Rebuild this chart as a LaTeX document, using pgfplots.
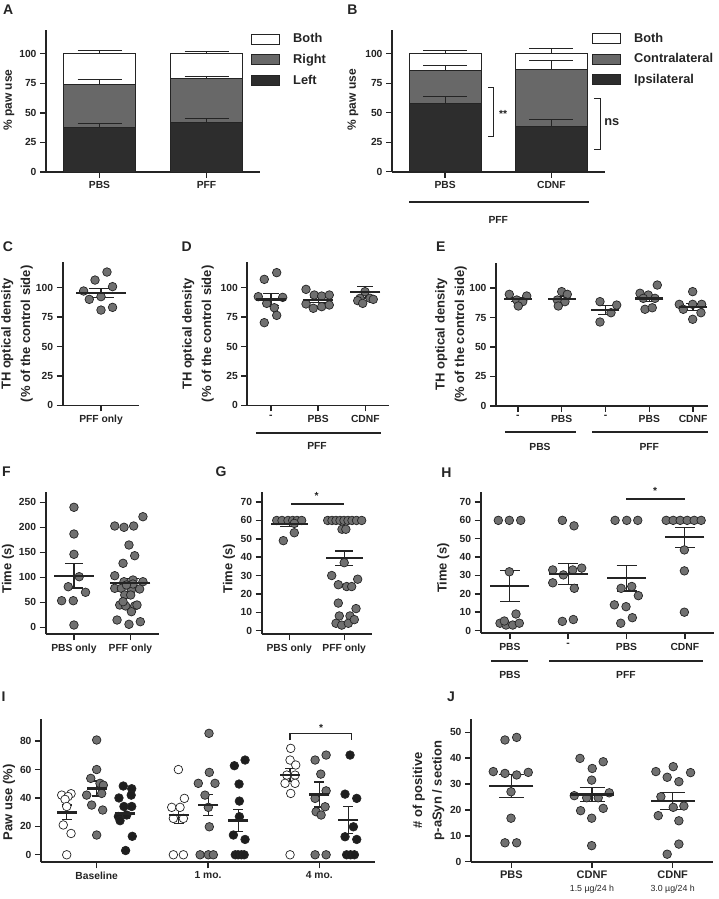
\documentclass[border=0pt]{standalone}
\usepackage{pgfplots}
\pgfplotsset{compat=1.18}
\usepackage{fontspec}
\setmainfont{Liberation Sans}

\definecolor{ink}{HTML}{242424}
\definecolor{dotgray}{HTML}{707070}
\definecolor{dotblack}{HTML}{1E1E1E}
\definecolor{bardark}{HTML}{2D2D2D}
\definecolor{bargray}{HTML}{686868}

\newcommand\tk{\fontsize{10.3}{12}\selectfont\bfseries}
\newcommand\lbs{\fontsize{12}{14}\selectfont\bfseries}
\newcommand\lbb{\fontsize{13}{19.5}\selectfont\bfseries}
\newcommand\lgd{\fontsize{12.8}{15}\selectfont\bfseries}
\newcommand\pl{\fontsize{14}{16}\selectfont\bfseries}
\newcommand\sub{\fontsize{8.8}{10}\selectfont\mdseries}

\pgfplotsset{
  gp/.style={scale only axis, anchor=south west, clip=false,
    axis lines=left, axis line style={-, line width=1.8pt, draw=ink},
    tick align=outside, major tick length=6pt,
    tick style={line width=1.4pt, draw=ink},
    tick label style={font=\tk, text=ink},
    /pgf/number format/assume math mode=true,
    ylabel style={font=\lbb, text=ink, align=center, anchor=center}},
  dots/.style={only marks, mark=*, mark size=4.3pt,
    mark options={fill=#1, draw=ink, line width=0.7pt}},
  dots/.default=dotgray,
  msem/.style 2 args={only marks, mark=-, mark size=#1,
    mark options={line width=2.4pt, draw=ink},
    error bars/.cd, y dir=both, y explicit,
    error bar style={line width=1.2pt, draw=ink},
    error mark options={rotate=90, mark size=#2, line width=1.2pt, draw=ink}},
  lgbox/.style={legend image code/.code={\draw[##1, line width=1pt] (0pt,-5pt) rectangle (28pt,5pt);}},
  errs/.style={forget plot, draw=none, fill=none, error bars/.cd, y dir=plus, y explicit,
    error bar style={line width=1pt, draw=ink},
    error mark options={rotate=90, mark size=22pt, line width=1pt, draw=ink}},
  lgpos/.style={legend style={at={#1}, anchor=north west, draw=none, fill=none,
    font=\lgd, text=ink, legend cell align=left, row sep=6pt, inner sep=0pt,
    /tikz/every odd column/.append style={column sep=11pt}}},
}

\begin{document}
\begin{tikzpicture}
\useasboundingbox (0pt,0pt) rectangle (718pt,-899pt);

% ---------- A
\begin{axis}[gp, at={(46pt,-172pt)}, width=214pt, height=142pt,
  xmin=0.5, xmax=2.5, ymin=0, ymax=120,
  xtick={1,2}, xticklabels={PBS,PFF}, ytick={0,25,50,75,100},
  ybar, bar width=72pt, bar shift=0pt,
  ylabel={\% paw use}, ylabel style={font=\lbs, at={(axis description cs:-0.173,0.507)}},
  lgpos={(0.958,0.99)}]
\addplot[lgbox, fill=white, draw=ink, line width=1pt] coordinates {(1,100) (2,100)};
\addlegendentry{Both}
\addplot[lgbox, fill=bargray, draw=ink, line width=1pt] coordinates {(1,74.1) (2,78.6)};
\addlegendentry{Right}
\addplot[lgbox, fill=bardark, draw=ink, line width=1pt] coordinates {(1,37.8) (2,42)};
\addlegendentry{Left}
\addplot[errs] coordinates {(1,37.8) +- (0,3.3) (1,74.1) +- (0,4.2) (1,100) +- (0,3)
  (2,42) +- (0,2.8) (2,78.6) +- (0,2.5) (2,100) +- (0,1.7)};
\end{axis}

% ---------- B
\begin{axis}[gp, at={(392pt,-171.7pt)}, width=212.5pt, height=141.6pt,
  xmin=0.5, xmax=2.5, ymin=0, ymax=120,
  xtick={1,2}, xticklabels={PBS,CDNF}, ytick={0,25,50,75,100},
  ybar, bar width=72pt, bar shift=0pt,
  ylabel={\% paw use}, ylabel style={font=\lbs, at={(axis description cs:-0.184,0.507)}},
  lgpos={(0.941,0.996)}]
\addplot[lgbox, fill=white, draw=ink, line width=1pt] coordinates {(1,100) (2,100)};
\addlegendentry{Both}
\addplot[lgbox, fill=bargray, draw=ink, line width=1pt] coordinates {(1,85.9) (2,86.8)};
\addlegendentry{Contralateral}
\addplot[lgbox, fill=bardark, draw=ink, line width=1pt] coordinates {(1,58) (2,38.1)};
\addlegendentry{Ipsilateral}
\addplot[errs] coordinates {(1,58) +- (0,5.5) (1,85.9) +- (0,4.1) (1,100) +- (0,3)
  (2,38.1) +- (0,6.2) (2,86.8) +- (0,7.2) (2,100) +- (0,4.5)};
\draw[line width=1pt, draw=ink] (axis cs:1.404,71.5) -- (axis cs:1.453,71.5) -- (axis cs:1.453,29.7) -- (axis cs:1.404,29.7);
\node[font=\tk, text=ink] at (axis cs:1.545,49) {**};
\draw[line width=1pt, draw=ink] (axis cs:2.401,62.2) -- (axis cs:2.458,62.2) -- (axis cs:2.458,18.4) -- (axis cs:2.401,18.4);
\node[font=\lgd, text=ink] at (axis cs:2.568,42.4) {ns};
\draw[line width=1.8pt, draw=ink] ([yshift=-30pt]axis cs:0.66,0) -- ([yshift=-30pt]axis cs:2.354,0);
\node[font=\tk, text=ink] at ([yshift=-48pt]axis cs:1.5,0) {PFF};
\end{axis}

% ---------- C
\begin{axis}[gp, at={(62.7pt,-405.4pt)}, width=76.6pt, height=143pt,
  xmin=0.5, xmax=1.5, ymin=0, ymax=121.5,
  xtick={1}, xticklabels={PFF only}, ytick={0,25,50,75,100},
  ylabel={TH optical density\\(\% of the control side)},
  ylabel style={at={(axis description cs:-0.597,0.5)}}]
\addplot[dots] coordinates {(1.078,113.3) (0.922,106.5) (1.151,100.9) (0.773,97.2)
  (1.0,92.4) (0.847,90.1) (1.151,83.3) (1.0,81)};
\addplot[msem={25pt}{12.5pt}] coordinates {(1,95.7) +- (0,3.9)};
\end{axis}

% ---------- D
\begin{axis}[gp, at={(247.3pt,-405.4pt)}, width=141.6pt, height=143pt,
  xmin=0.5, xmax=3.5, ymin=0, ymax=121.5,
  xtick={1,2,3}, xticklabels={-,PBS,CDNF}, ytick={0,25,50,75,100},
  ylabel={TH optical density\\(\% of the control side)},
  ylabel style={at={(axis description cs:-0.348,0.5)}}]
\addplot[dots] coordinates {(1.123,112.8) (0.860,107.1) (0.733,92.4) (1.25,91.8)
  (0.911,86.7) (1.072,83) (1.123,76.5) (0.860,70.3)};
\addplot[dots] coordinates {(1.744,98.6) (1.919,93.8) (2.076,92.9) (2.237,93.8)
  (1.744,86.2) (1.898,82.5) (2.076,83.9) (2.237,85.3)};
\addplot[dots] coordinates {(2.994,96.6) (2.888,91) (3.100,91) (2.839,89)
  (3.169,90.1) (2.945,86.7)};
\addplot[msem={15pt}{8pt}] coordinates {(1,90.1) +- (0,5) (2,89.5) +- (0,2) (3,96.3) +- (0,5)};
\draw[line width=1.8pt, draw=ink] ([yshift=-27.3pt]axis cs:0.684,0) -- ([yshift=-27.3pt]axis cs:3.33,0);
\node[font=\tk, text=ink] at ([yshift=-40.6pt]axis cs:1.977,0) {PFF};
\end{axis}

% ---------- E
\begin{axis}[gp, at={(496pt,-405.8pt)}, width=212.4pt, height=143pt,
  xmin=0.5, xmax=5.35, ymin=0, ymax=121.5,
  xtick={1,2,3,4,5}, xticklabels={-,PBS,-,PBS,CDNF}, ytick={0,25,50,75,100},
  ylabel={TH optical density\\(\% of the control side)},
  ylabel style={at={(axis description cs:-0.212,0.5)}}]
\addplot[dots] coordinates {(0.804,94.7) (1.201,93.3) (0.973,89.9) (1.110,88.5) (1.009,84.8)};
\addplot[dots] coordinates {(2.0,97) (2.128,94.7) (1.900,89.9) (2.075,88.5) (1.922,84.8)};
\addplot[dots] coordinates {(2.874,88.5) (3.256,85.6) (3.126,79.1) (2.874,71.2)};
\addplot[dots] coordinates {(4.183,102.6) (3.788,95.6) (3.977,94.1) (3.863,91.3)
  (4.130,91.3) (3.902,82) (4.068,83.3)};
\addplot[dots] coordinates {(4.991,97) (4.685,86.2) (5.196,86.2) (4.991,86.2)
  (4.776,82) (5.180,79.1) (4.991,73.5)};
\addplot[msem={14pt}{7pt}] coordinates {(1,90.5) +- (0,1.8) (2,91) +- (0,2.2)
  (3,81.4) +- (0,3.6) (4,91.3) +- (0,2.6) (5,84.2) +- (0,3)};
\draw[line width=1.8pt, draw=ink] ([yshift=-26.2pt]axis cs:0.705,0) -- ([yshift=-26.2pt]axis cs:2.326,0);
\draw[line width=1.8pt, draw=ink] ([yshift=-26.2pt]axis cs:2.699,0) -- ([yshift=-26.2pt]axis cs:5.333,0);
\node[font=\tk, text=ink] at ([yshift=-41.5pt]axis cs:1.505,0) {PBS};
\node[font=\tk, text=ink] at ([yshift=-41.5pt]axis cs:4.0,0) {PFF};
\end{axis}

% ---------- F
\begin{axis}[gp, at={(45.7pt,-634.3pt)}, width=113pt, height=142.5pt,
  xmin=0.5, xmax=2.5, ymin=-14, ymax=271,
  xtick={1,2}, xticklabels={PBS only,PFF only}, ytick={0,50,...,250},
  ylabel={Time (s)}, ylabel style={at={(axis description cs:-0.334,0.46)}}]
\addplot[dots] coordinates {(1.0,240) (1.0,186.6) (1.0,146) (1.093,101.2) (0.899,81.2)
  (1.205,70) (0.782,53.2) (0.988,53.2) (1.0,4.6)};
\addplot[dots] coordinates {(1.722,202.6) (1.886,200) (2.057,202.6) (2.221,221.2)
  (1.974,164.6) (2.075,143.2) (1.869,128) (1.722,103.2) (1.886,91.2) (2.045,94.6)
  (2.221,91.2) (1.722,78) (1.840,78) (2.017,74.6) (2.163,76.6) (1.899,64.6) (2.004,64.6)
  (1.810,44.6) (1.916,42.6) (2.075,42.6) (2.116,44.6) (1.869,51.2) (2.017,31.2)
  (1.763,14.6) (1.974,6) (2.175,11.2) (2.045,86.6) (1.929,84.6)};
\addplot[msem={20pt}{9pt}] coordinates {(1,103.2) +- (0,24.5) (2,89.2) +- (0,9)};
\end{axis}

% ---------- G
\begin{axis}[gp, at={(261.7pt,-634.3pt)}, width=110pt, height=142.5pt,
  xmin=0.5, xmax=2.5, ymin=-2, ymax=75.6,
  xtick={1,2}, xticklabels={PBS only,PFF only}, ytick={0,10,...,70},
  ylabel={Time (s)}, ylabel style={at={(axis description cs:-0.297,0.46)}}]
\addplot[dots] coordinates {(0.773,60) (0.869,60) (0.978,60) (1.064,60) (1.142,60)
  (1.227,60) (1.093,58.4) (1.093,53.3) (0.893,49)};
\addplot[dots] coordinates {(1.7,60) (1.778,60) (1.851,60) (1.924,60) (1.996,60)
  (2.069,60) (2.142,60) (2.224,60) (2.318,60) (1.96,55.2) (2.03,55.2) (2.0,37)
  (1.773,30) (1.893,25) (2.045,24) (2.136,24) (2.245,28) (1.893,15) (2.215,12)
  (1.911,8) (2.105,8) (1.851,4) (1.955,3) (2.075,4) (2.184,6)};
\addplot[msem={18.5pt}{9pt}] coordinates {(1,58) +- (0,1.3) (2,39.4) +- (0,4)};
\draw[line width=1.6pt, draw=ink] (axis cs:1.033,69) -- (axis cs:1.996,69);
\node[font=\tk, text=ink] at (axis cs:1.5,73.3) {*};
\end{axis}

% ---------- H
\begin{axis}[gp, at={(480.7pt,-633.3pt)}, width=233.3pt, height=141.6pt,
  xmin=0.5, xmax=4.5, ymin=-1.5, ymax=75.6,
  xtick={1,2,3,4}, xticklabels={PBS,-,PBS,CDNF}, ytick={0,10,...,70},
  ylabel={Time (s)}, ylabel style={at={(axis description cs:-0.160,0.46)}}]
\addplot[dots] coordinates {(0.802,60) (0.991,60) (1.186,60) (0.991,32) (0.831,4)
  (0.934,3) (1.049,3) (1.162,4) (1.105,9) (0.905,5.2)};
\addplot[dots] coordinates {(1.900,60) (2.100,57) (1.735,33) (1.917,30.3) (2.078,33)
  (2.232,34) (1.735,26) (2.105,23) (1.900,5) (2.088,6)};
\addplot[dots] coordinates {(2.804,60) (3.004,60) (3.193,60) (2.907,23) (3.090,24)
  (3.203,19) (2.792,14) (2.992,13) (3.100,7) (2.901,4)};
\addplot[dots] coordinates {(3.68,60) (3.80,60) (3.92,60) (4.04,60) (4.16,60) (4.28,60)
  (3.992,43.9) (3.992,32.5) (3.992,10)};
\addplot[msem={19.5pt}{10pt}] coordinates {(1,24.3) +- (0,8.5) (2,30.8) +- (0,5.8)
  (3,28.5) +- (0,7) (4,50.8) +- (0,5.4)};
\draw[line width=1.6pt, draw=ink] (axis cs:2.992,71.5) -- (axis cs:4.004,71.5);
\node[font=\tk, text=ink] at (axis cs:3.49,75.8) {*};
\draw[line width=1.8pt, draw=ink] ([yshift=-27.7pt]axis cs:0.677,-1.5) -- ([yshift=-27.7pt]axis cs:1.316,-1.5);
\draw[line width=1.8pt, draw=ink] ([yshift=-27.7pt]axis cs:1.677,-1.5) -- ([yshift=-27.7pt]axis cs:4.318,-1.5);
\node[font=\tk, text=ink] at ([yshift=-41.7pt]axis cs:1.0,-1.5) {PBS};
\node[font=\tk, text=ink] at ([yshift=-41.7pt]axis cs:2.99,-1.5) {PFF};
\end{axis}

% ---------- I
\begin{axis}[gp, at={(41pt,-862.3pt)}, width=334pt, height=142.9pt,
  xmin=0.5, xmax=3.5, ymin=-5.3, ymax=95.3,
  xtick={1,2,3}, xticklabels={Baseline,1 mo.,4 mo.}, ytick={0,20,...,80},
  ylabel={Paw use (\%)}, ylabel style={at={(axis description cs:-0.096,0.42)}}]
\addplot[dots=white] coordinates {(0.770,43) (0.686,42) (0.743,41) (0.716,39) (0.731,34)
  (0.700,21) (0.770,15) (0.731,0)
  (1.734,60) (1.788,39.7) (1.674,33.4) (1.749,33.4) (1.689,25.6) (1.779,25.6) (1.689,0) (1.779,0)
  (2.743,74.9) (2.737,66.7) (2.788,63.2) (2.708,56.1) (2.782,56.1) (2.692,50.3) (2.782,50.3)
  (2.743,43.2) (2.737,0)};
\addplot[dots] coordinates {(1.0,80.8) (1.0,60) (0.947,53.8) (1.03,50.3) (1.06,49) (0.91,42)
  (1.045,43.2) (0.955,35) (1.054,31.5) (1.0,13.9)
  (2.009,85.5) (2.012,58) (1.913,50.3) (2.063,50.3) (1.973,42) (2.003,33.4) (2.012,19.7)
  (1.929,0) (2.003,0) (2.048,0)
  (2.962,66.7) (3.061,70.2) (3.013,56.8) (3.061,45) (2.962,39.7) (3.052,33.8) (2.971,30.3)
  (3.016,28) (2.962,0) (3.061,0)};
\addplot[dots=dotblack] coordinates {(1.239,48.4) (1.315,46.5) (1.2,40) (1.31,42) (1.245,34)
  (1.315,34) (1.195,27) (1.27,28) (1.21,24) (1.32,13) (1.26,3)
  (2.237,62.7) (2.333,66.7) (2.279,49.8) (2.282,37.8) (2.282,26.8) (2.228,13.9) (2.333,10.8)
  (2.245,0) (2.27,0) (2.30,0) (2.325,0)
  (3.276,70.2) (3.231,42.7) (3.336,39.7) (3.306,19.7) (3.231,12.7) (3.336,10.8)
  (3.245,0) (3.28,0) (3.315,0)};
\addplot[msem={10pt}{5pt}] coordinates {(0.731,29.8) +- (0,5.2) (1.0,46.7) +- (0,5.3)
  (1.255,29.1) +- (0,3.3) (1.738,28) +- (0,6) (2.003,35) +- (0,7.3) (2.273,24) +- (0,7.7)
  (2.737,56.1) +- (0,4.7) (3.0,42.5) +- (0,8.8) (3.261,24.4) +- (0,9.4)};
\draw[line width=1.4pt, draw=ink] (axis cs:2.737,80.8) -- (axis cs:2.737,85.5) -- (axis cs:3.291,85.5) -- (axis cs:3.291,80.8);
\node[font=\tk, text=ink] at (axis cs:3.016,89.3) {*};
\end{axis}

% ---------- J
\begin{axis}[gp, at={(471pt,-861.7pt)}, width=242pt, height=142.7pt,
  xmin=0.5, xmax=3.5, ymin=0, ymax=55.1,
  xtick={1,2,3}, ytick={0,10,...,50},
  xticklabels={PBS,{CDNF\\{\sub 1.5 µg/24 h}},{CDNF\\{\sub 3.0 µg/24 h}}},
  xticklabel style={align=center, font=\fontsize{11}{13}\selectfont\bfseries},
  ylabel={\# of positive\\p-aSyn / section},
  ylabel style={at={(axis description cs:-0.176,0.5)}}]
\addplot[dots] coordinates {(0.921,47) (1.066,48) (0.776,34.8) (0.921,34.1) (1.066,33.5)
  (1.21,34.5) (0.996,27) (0.996,16.8) (0.921,7.3) (1.066,7.3)};
\addplot[dots] coordinates {(1.851,39.9) (2.139,38.6) (2.003,36) (1.996,31.5) (1.780,25.5)
  (1.934,24.7) (2.077,24.7) (2.214,26.6) (1.859,19.7) (2.139,20.6) (1.996,16.8) (1.996,6.2)};
\addplot[dots] coordinates {(2.792,34.8) (3.007,36.7) (3.222,34.4) (2.932,32.6) (3.077,30.9)
  (2.854,25.1) (3.007,21) (3.139,21.5) (2.821,17.8) (3.077,15.8) (3.077,6.8) (2.932,2.9)};
\addplot[msem={22pt}{12.5pt}] coordinates {(1,29.2) +- (0,4.5) (2,26) +- (0,2.7) (3,23.4) +- (0,3.2)};
\end{axis}

% panel letters
\foreach \t/\x/\y in {A/8.3/9.2, B/352.5/9.2, C/8/247, D/186.7/246.7, E/440.8/246.7,
  F/6.3/472, G/221/472, H/446.3/472.5, I/3.5/696.7, J/451/696.7}
  \node[font=\pl, text=ink] at (\x pt,-\y pt) {\t};
\end{tikzpicture}
\end{document}
